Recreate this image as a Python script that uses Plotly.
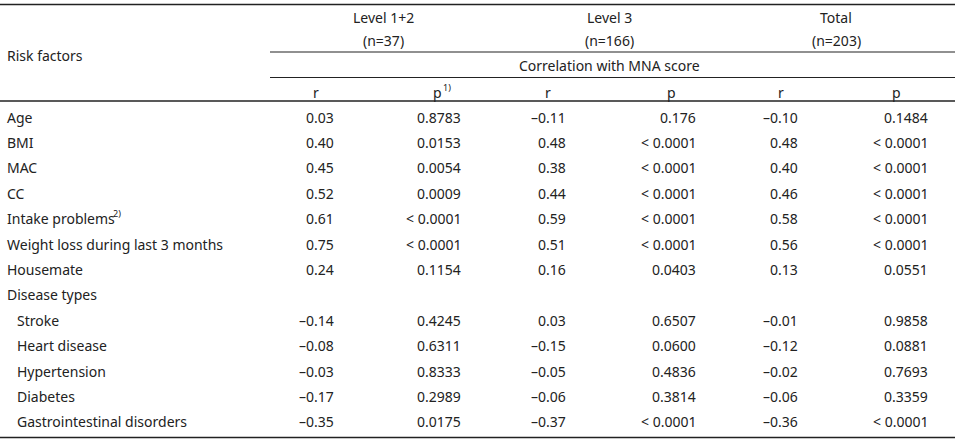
import plotly.graph_objects as go

# ---------------- data ----------------
factors = ["Age", "BMI", "MAC", "CC", "Intake problems",
           "Weight loss during last 3 months", "Housemate", "Disease types",
           "Stroke", "Heart disease", "Hypertension", "Diabetes",
           "Gastrointestinal disorders"]
factor_notes = [None, None, None, None, "2)", None, None, None, None, None, None, None, None]
indented = [False] * 8 + [True] * 5

group_names = ["Level 1+2", "Level 3", "Total"]
group_n = ["(n=37)", "(n=166)", "(n=203)"]
sub_header = "Correlation with MNA score"
col_headers = ["r", "p", "r", "p", "r", "p"]
col_notes = [None, "1)", None, None, None, None]

r_level12 = [0.03, 0.40, 0.45, 0.52, 0.61, 0.75, 0.24, None, -0.14, -0.08, -0.03, -0.17, -0.35]
p_level12 = ["0.8783", "0.0153", "0.0054", "0.0009", "< 0.0001", "< 0.0001", "0.1154", None,
             "0.4245", "0.6311", "0.8333", "0.2989", "0.0175"]
r_level3 = [-0.11, 0.48, 0.38, 0.44, 0.59, 0.51, 0.16, None, 0.03, -0.15, -0.05, -0.06, -0.37]
p_level3 = ["0.176", "< 0.0001", "< 0.0001", "< 0.0001", "< 0.0001", "< 0.0001", "0.0403", None,
            "0.6507", "0.0600", "0.4836", "0.3814", "< 0.0001"]
r_total = [-0.10, 0.48, 0.40, 0.46, 0.58, 0.56, 0.13, None, -0.01, -0.12, -0.02, -0.06, -0.36]
p_total = ["0.1484", "< 0.0001", "< 0.0001", "< 0.0001", "< 0.0001", "< 0.0001", "0.0551", None,
           "0.9858", "0.0881", "0.7693", "0.3359", "< 0.0001"]

# ---------------- layout constants ----------------
W, H = 959, 440
FONT = "Noto Sans"
TXT = "#222222"
FS = 14
FS_NOTE = 9
row_y0, row_dy = 117, 25.4
col_right = [336, 463, 568, 698, 800, 930]
col_head_x = [316, 437, 548, 671, 781, 896]
group_x = [383, 609, 836]
table_left, sub_left, table_right = 0, 270, 955
factor_note_x = 112      # just right of "Intake problems"
head_note_x = 442        # just right of header "p"


def fmt_r(v):
    if v is None:
        return ""
    s = f"{abs(v):.2f}"
    return ("–" + s) if v < 0 else s


fig = go.Figure()
ann = []


def add(text, x, y, xanchor="center", size=FS, pad=1):
    ann.append(dict(text=text, x=x, y=y, xref="x", yref="y", showarrow=False,
                    xanchor=xanchor, yanchor="middle", borderpad=pad,
                    font=dict(family=FONT, size=size, color=TXT)))


# header
add("Risk factors", 5, 55, "left")
for g, n, x in zip(group_names, group_n, group_x):
    add(g, x, 17)
    add(n, x, 40)
add(sub_header, group_x[1], 65)
for h, note, x in zip(col_headers, col_notes, col_head_x):
    add(h, x, 92)
    if note:
        add(note, head_note_x, 87, "left", FS_NOTE, 0)

# body
cols = [[fmt_r(v) for v in r_level12], [p or "" for p in p_level12],
        [fmt_r(v) for v in r_level3], [p or "" for p in p_level3],
        [fmt_r(v) for v in r_total], [p or "" for p in p_total]]
for i, f in enumerate(factors):
    y = row_y0 + i * row_dy
    add(f, 15 if indented[i] else 5, y, "left")
    if factor_notes[i]:
        add(factor_notes[i], factor_note_x, y - 5, "left", FS_NOTE, 0)
    for c, xr in zip(cols, col_right):
        if c[i]:
            add(c[i], xr, y, "right")

shapes = []


def hline(x0, x1, y, w):
    shapes.append(dict(type="line", xref="x", yref="y", x0=x0, x1=x1, y0=y, y1=y,
                       line=dict(color="#222222", width=w)))


hline(table_left, table_right, 4.5, 1.6)
hline(sub_left, table_right, 52, 1.1)
hline(sub_left, table_right, 77.5, 1.1)
hline(table_left, table_right, 101, 1.6)
hline(table_left, table_right, 437.5, 1.6)

fig.update_layout(
    width=W, height=H,
    margin=dict(l=0, r=0, t=0, b=0),
    paper_bgcolor="white", plot_bgcolor="white",
    xaxis=dict(range=[0, W], visible=False, fixedrange=True),
    yaxis=dict(range=[H, 0], visible=False, fixedrange=True),
    annotations=ann, shapes=shapes, showlegend=False,
)

fig.write_html("out.html", config={"displayModeBar": False},
               post_script="document.body.style.margin='0';document.body.style.overflow='hidden';")
